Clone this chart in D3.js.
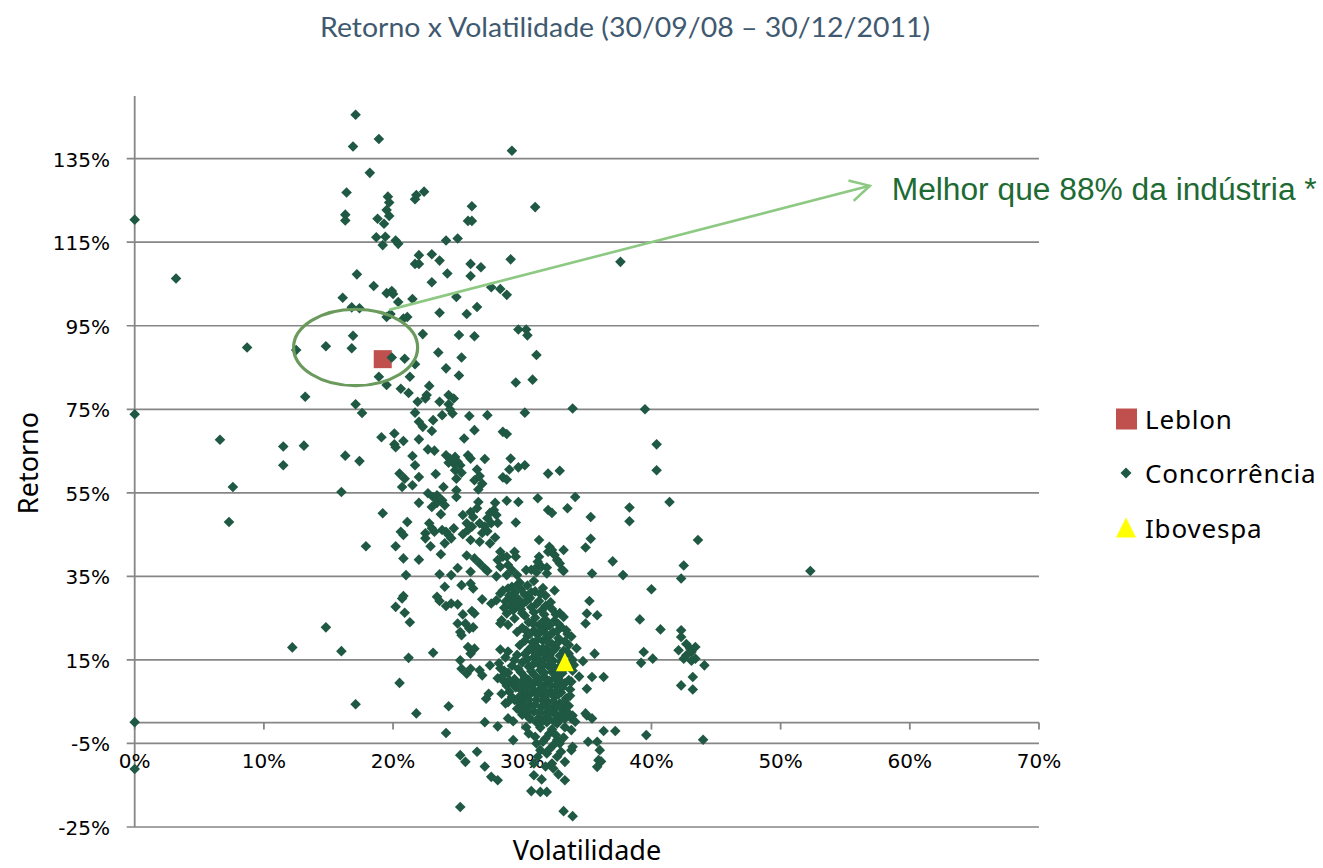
<!DOCTYPE html>
<html><head><meta charset="utf-8">
<script src="https://cdn.jsdelivr.net/npm/d3@7"></script>
<style>body{margin:0;background:#fff}</style>
</head><body>
<svg id="chart" width="1323" height="868"></svg>
<script>
// ---------- DATA ----------
const chartTitle = "Retorno x Volatilidade (30/09/08 – 30/12/2011)";
const xTicks = [0, 10, 20, 30, 40, 50, 60, 70];
const yTicks = [-25, -5, 15, 35, 55, 75, 95, 115, 135];
const seriesNames = ["Leblon", "Concorrência", "Ibovespa"];
// [volatilidade %, retorno %]
const leblon = [[19.2, 87.0]];
const ibovespa = [[33.3, 14.3]];
const concorrencia = [
[17.1,145.5],[18.9,139.7],[16.9,137.9],[18.2,131.6],[16.4,126.9],[19.6,125.9],[19.7,124.5],[21.8,126.3],[21.7,125.3],[16.3,121.6],
[16.3,120.2],[19.5,122.7],[19.7,121.3],[18.8,120.6],[19.3,119.4],[0,120.4],[18.7,116.2],[19.4,116.3],[19.2,114.3],[20.2,115.4],
[20.4,114.6],[22.0,111.9],[21.7,109.8],[3.2,106.3],[17.2,107.3],[18.5,104.5],[16.1,101.7],[19.5,102.8],[19.9,103.3],[20.0,102.6],
[20.4,100.7],[21.5,101.4],[16.8,99.4],[17.4,99.2],[19.5,97.1],[19.8,97.8],[20.8,96.7],[21.1,97.1],[16.9,92.6],[29.2,136.9],
[22.4,127.1],[26.1,123.6],[31.0,123.4],[25.8,120.1],[26.1,120.1],[24.1,115.4],[25.0,115.9],[23.0,112.1],[23.6,110.6],[22.0,109.8],
[26.0,109.8],[26.8,109.0],[29.1,110.9],[37.6,110.3],[24.2,107.5],[26.0,106.9],[23.0,105.4],[27.6,104.2],[28.3,103.8],[28.8,102.4],
[24.9,101.9],[23.6,98.1],[25.7,97.8],[26.5,99.5],[22.3,93.0],[25.1,92.8],[26.3,92.5],[29.7,94.1],[30.3,94.1],[30.4,92.7],
[8.7,89.8],[12.5,89.2],[14.8,90.1],[16.8,89.6],[19.9,87.4],[20.9,87.1],[21.7,85.8],[18.9,82.8],[19.5,80.8],[21.3,82.8],
[20.6,79.9],[21.2,78.9],[13.2,78.0],[21.9,76.8],[17.1,76.2],[17.6,74.1],[21.7,74.2],[0,73.8],[22.0,72.0],[19.1,68.3],
[20.1,69.2],[20.8,67.4],[20.1,66.6],[20.2,65.9],[6.6,67.7],[11.5,66.1],[13.1,66.3],[11.5,61.6],[16.3,63.9],[17.4,62.6],
[21.5,63.8],[21.7,61.6],[22.0,67.8],[20.5,59.6],[20.9,58.4],[20.7,56.4],[21.5,56.8],[22.0,58.8],[7.6,56.4],[16.0,55.2],
[22.0,52.6],[19.2,50.1],[7.3,48.0],[21.1,48.0],[20.6,45.7],[20.8,44.9],[17.9,42.2],[20.2,42.2],[20.8,39.3],[22.0,39.0],
[21.0,35.3],[23.5,88.6],[25.3,87.4],[31.1,88.0],[24.1,84.8],[25.1,83.1],[29.5,81.4],[30.8,82.1],[22.8,80.6],[22.5,77.6],
[22.6,78.4],[23.6,76.8],[24.3,78.4],[24.7,77.6],[24.3,76.2],[24.4,75.0],[24.6,74.0],[23.8,73.6],[23.1,72.4],[25.9,73.4],
[27.3,73.6],[30.2,74.2],[33.9,75.2],[39.5,75.0],[22.3,70.8],[23.0,69.8],[26.3,70.0],[28.5,69.6],[28.8,69.1],[25.5,68.0],
[40.4,66.6],[22.7,65.4],[23.2,65.1],[24.1,64.0],[24.4,63.2],[24.8,63.6],[25.0,62.4],[24.7,62.0],[25.2,61.6],[24.3,62.2],
[25.8,64.0],[26.0,63.2],[27.1,63.1],[29.1,63.2],[30.2,61.6],[29.7,61.1],[29.0,60.6],[32.0,59.6],[32.9,60.3],[40.4,60.4],
[23.3,59.5],[24.8,60.4],[25.3,59.8],[24.9,58.4],[26.5,60.6],[26.7,59.0],[26.3,58.0],[26.9,57.2],[28.5,58.7],[28.8,58.2],
[23.9,56.4],[24.9,55.6],[24.9,54.0],[26.6,55.8],[22.7,54.9],[23.1,54.0],[23.4,54.4],[31.2,53.7],[34.1,54.0],[41.4,52.8],
[38.3,51.5],[23.4,52.6],[23.8,53.2],[24.0,52.0],[23.0,51.6],[26.6,52.8],[26.5,51.3],[27.9,52.6],[27.8,50.9],[27.5,50.2],
[28.0,49.7],[27.3,48.9],[28.8,53.1],[29.7,52.8],[32.0,50.9],[32.3,50.2],[33.5,51.3],[35.3,49.2],[38.3,48.2],[23.7,49.9],
[25.4,49.7],[26.0,50.4],[26.2,49.2],[22.8,47.7],[23.0,46.5],[22.5,45.3],[23.2,45.7],[23.8,46.1],[24.1,45.7],[24.7,46.5],
[24.3,44.9],[25.7,47.7],[26.1,46.9],[25.8,46.1],[25.4,45.1],[26.7,47.7],[27.1,46.9],[27.3,45.8],[26.9,45.4],[27.6,47.7],
[28.1,47.8],[29.5,47.9],[22.5,44.1],[22.9,42.2],[24.0,42.9],[24.5,44.1],[26.0,43.7],[26.7,43.3],[27.5,42.9],[27.9,44.3],
[31.3,43.7],[35.3,44.0],[34.9,41.9],[32.1,42.1],[32.0,40.9],[33.2,41.3],[43.6,43.7],[23.7,40.3],[25.7,40.0],[26.3,39.3],
[26.7,38.1],[27.1,36.9],[27.3,36.3],[28.3,40.9],[28.5,39.7],[28.1,38.9],[28.8,39.7],[28.3,37.3],[28.9,37.7],[29.4,40.9],
[29.5,39.7],[29.2,36.5],[29.6,35.3],[25.0,37.0],[26.0,36.1],[23.6,35.5],[24.5,35.3],[30.3,36.5],[30.7,36.6],[31.1,37.1],
[31.5,37.3],[31.9,37.1],[31.3,39.7],[31.2,38.5],[32.5,40.1],[32.7,38.9],[32.9,38.1],[33.1,36.6],[32.3,41.3],[37.0,38.6],
[35.4,35.7],[37.8,35.3],[42.5,37.6],[42.3,34.5],[52.3,36.3],[20.8,30.3],[20.7,29.7],[20.2,27.7],[20.9,26.3],[21.3,24.0],
[14.8,22.8],[12.2,18.0],[16.0,17.1],[21.2,15.5],[20.5,9.5],[17.1,4.4],[21.8,2.2],[0,0.1],[0,-11.1],[42.3,22.1],
[42.3,20.5],[42.7,18.8],[43.0,17.7],[43.4,18.1],[43.1,16.9],[42.7,16.1],[42.5,15.3],[43.1,14.8],[43.4,15.3],[44.1,13.7],
[43.2,10.9],[42.3,8.9],[43.2,7.9],[44.0,-4.1],[28.0,35.0],[28.8,35.3],[31.1,36.0],[31.9,35.7],[33.2,36.3],[40.0,31.9],
[24.0,32.5],[25.3,32.9],[26.0,33.3],[26.2,32.1],[26.9,29.5],[23.4,30.1],[23.6,29.1],[24.1,27.9],[24.5,28.5],[25.0,28.3],
[25.4,25.9],[26.1,26.7],[26.3,26.1],[25.6,23.7],[25.0,23.7],[25.2,21.7],[25.3,20.9],[25.9,22.5],[26.2,22.8],[27.6,28.5],
[28.0,29.3],[28.3,30.9],[28.9,32.1],[29.2,32.5],[29.6,32.9],[28.4,24.5],[28.3,23.7],[28.8,26.1],[29.3,26.9],[35.2,29.1],
[35.0,26.1],[35.8,25.7],[34.9,23.7],[33.4,22.1],[39.1,24.7],[40.7,22.3],[42.1,17.3],[39.4,16.9],[39.2,14.3],[40.1,15.3],
[35.6,16.5],[34.7,14.7],[36.3,10.9],[35.4,10.9],[35.0,8.1],[23.1,16.7],[25.2,14.9],[25.3,12.9],[25.7,11.7],[26.0,12.9],
[26.7,12.5],[26.9,11.3],[27.5,13.7],[25.8,18.1],[26.3,17.7],[26.0,16.5],[27.4,6.9],[27.2,5.7],[24.3,3.9],[27.1,0.1],
[28.1,-0.9],[24.1,-2.5],[28.9,1.0],[28.7,4.6],[35.0,1.7],[35.4,1.0],[36.3,-2.0],[37.2,-2.0],[39.6,-3.0],[35.1,-4.6],
[35.8,-4.6],[36.0,-6.6],[35.9,-9.0],[36.1,-9.3],[35.8,-10.6],[25.2,-7.8],[25.6,-9.4],[26.5,-7.0],[27.1,-10.5],[27.6,-13.0],
[28.1,-13.8],[29.3,-4.2],[30.3,-1.1],[30.5,-2.6],[31.1,-5.0],[31.4,-6.6],[30.9,-9.8],[30.9,-12.6],[31.9,-7.4],[32.3,-9.8],
[32.4,-11.0],[32.7,-8.2],[33.3,-9.4],[33.8,-6.6],[33.9,-5.8],[33.3,-13.8],[30.7,-16.4],[31.4,-16.6],[31.9,-16.6],[25.2,-20.2],
[33.2,-21.2],[33.9,-22.4],[29.2,6.1],[28.9,4.9],[29.8,4.6],[30.1,5.7],[30.2,2.9],[30.5,1.3],[31.1,0.1],[31.9,0.1],
[32.7,-0.2],[33.3,-1.1],[33.8,-1.8],[32.1,-2.6],[32.7,-4.2],[31.8,-3.8],[32.4,-5.4],[32.9,-5.0],[33.8,1.0],[33.9,1.7],
[34.9,2.2]
];
// dense core near Ibovespa
const concorrenciaNucleo = [
[29.8,33.5],[30.4,32.8],[30.9,33.9],[31.6,32.2],[29.4,31.0],[30.2,30.6],[31.0,31.4],[31.8,30.4],[32.5,31.6],[30.6,29.8],
[29.7,29.5],[31.3,29.1],[32.2,28.8],[28.7,29.0],[30.0,28.3],[29.1,27.8],[29.9,27.1],[30.7,27.6],[31.5,26.8],[32.3,27.2],
[32.9,26.2],[30.2,25.6],[31.0,25.1],[31.8,24.6],[29.4,24.9],[30.5,24.0],[32.5,24.4],[33.2,25.3],[28.9,23.4],[31.3,23.3],
[30.0,22.7],[30.9,22.0],[31.7,22.5],[32.4,21.6],[33.0,22.9],[31.2,21.0],[32.0,20.4],[32.8,20.2],[30.4,20.8],[29.6,21.7],
[31.6,19.6],[33.3,19.4],[30.8,19.2],[32.3,18.8],[33.8,20.6],[31.1,18.2],[31.9,17.6],[32.6,17.9],[33.2,17.2],[30.5,17.4],
[29.8,18.5],[31.4,16.8],[32.1,16.2],[32.9,16.0],[33.6,16.5],[30.9,15.7],[31.7,15.2],[32.4,14.8],[29.6,16.2],[28.7,15.6],
[34.2,17.8],[31.2,14.2],[32.0,13.6],[32.8,13.2],[33.5,13.9],[30.5,13.4],[29.7,12.8],[31.4,12.6],[32.3,12.1],[33.1,11.8],
[33.9,12.4],[30.9,11.5],[31.7,10.9],[32.5,10.6],[28.9,11.9],[29.4,10.4],[30.2,10.9],[34.4,11.0],[33.6,10.2],[28.3,13.0],
[31.0,9.6],[31.8,9.1],[32.6,8.8],[33.3,9.4],[30.3,8.9],[29.5,8.4],[31.4,8.0],[32.2,7.5],[33.0,7.2],[33.7,7.9],
[30.7,7.1],[31.6,6.5],[32.5,6.1],[29.0,7.4],[28.6,9.8],[30.1,6.6],[33.4,5.8],[31.1,5.5],[32.0,4.9],[32.9,4.6],
[30.6,4.1],[31.5,3.8],[32.4,3.4],[33.2,3.0],[29.6,3.3],[30.9,2.6],[31.8,2.2],[32.6,1.8],[33.5,2.5],[31.3,1.2],
[32.1,0.8],[32.9,0.6],[30.0,1.9],[29.3,0.3],[31.4,-1.2],[32.3,-1.6],[31.0,-3.4],[32.6,-3.0],[31.6,-4.6],[33.2,-3.6],
[32.1,-6.4],[31.2,-8.2],[33.0,-7.0],[31.8,-10.5],[32.8,-12.4],[31.5,-13.6],[28.2,14.2],[28.6,12.4],[29.2,13.6],[28.1,10.6],
[28.8,8.8],[29.3,9.2],[28.4,6.9],[29.7,6.0],
[30.8,23.8],[31.5,23.9],[32.1,23.2],[32.8,23.6],[30.3,22.0],[31.4,21.8],[32.7,21.9],[33.5,21.2],[31.9,21.1],[30.6,21.2],
[30.2,19.6],[31.2,19.9],[32.0,19.2],[32.7,19.0],[33.6,18.6],[30.7,18.0],[31.6,17.8],[32.4,17.2],[33.4,16.9],[30.2,16.4],
[31.0,16.6],[31.8,16.5],[30.4,15.2],[31.3,15.0],[32.1,15.3],[33.0,14.6],[33.9,15.0],[30.0,14.4],[30.8,13.8],[31.6,13.7],
[32.4,13.5],[33.2,12.7],[29.9,12.0],[30.7,12.3],[31.7,11.9],[32.7,11.8],[34.0,13.8],[30.5,10.2],[31.3,10.4],[32.1,10.0],
[32.9,10.1],[33.8,9.8],[29.9,9.6],[30.6,9.0],[31.4,9.2],[32.2,8.9],[33.1,8.4],[29.9,7.8],[30.8,8.1],[31.7,7.8],
[32.6,7.3],[30.4,6.9],[31.1,6.8],[31.9,6.6],[32.8,6.8],[33.7,6.4],[29.4,5.4],[30.5,5.4],[31.6,5.2],[32.4,5.0],
[33.2,4.8],[30.1,4.2],[31.0,4.3],[31.9,3.9],[32.7,3.8],[33.6,4.0],[29.9,2.8],[30.4,2.4],[31.3,2.5],[32.2,2.6],
[33.0,2.1],[30.6,0.9],[31.6,0.5],[32.5,0.2],[33.3,0.9],[34.1,0.2],[29.0,30.4],[29.9,31.9],[30.7,31.2],[31.4,30.8],
[28.6,27.5],[29.5,28.2],[30.3,29.0],[31.1,28.4],[31.8,27.9],[28.5,31.6],[29.2,29.5],[30.9,26.4],[31.7,25.9],[32.6,25.9],
[30.0,26.2],[28.3,17.5],[28.9,17.0],[29.4,15.0],[28.5,11.2],[29.0,10.2]
];
// annotation (in data units)
const destaque = {vol: 17.1, ret: 89.8, dVol: 4.8, dRet: 9.15};
const seta = [[19.7, 98.8], [56.9, 128.5]];
const notaTexto = "Melhor que 88% da indústria *";
const notaPos = [58.6, 127.7];

// ---------- LAYOUT ----------
const svg = d3.select("#chart");
const x = d3.scaleLinear().domain([0, 70]).range([134.7, 1039]);
const y = d3.scaleLinear().domain([-25, 150]).range([827, 96]);
const gridColor = "#868686";
const pctFmt = d => d + "%";

// title
svg.append("text").attr("x", 625).attr("y", 37).attr("text-anchor", "middle")
  .attr("font-family", "Lato, 'Open Sans', sans-serif").attr("font-size", 27)
  .attr("fill", "#3f5a70").attr("textLength", 610).attr("lengthAdjust", "spacingAndGlyphs")
  .text(chartTitle);

// gridlines
svg.append("g").selectAll("line").data(yTicks).join("line")
  .attr("x1", x(0) - 8).attr("x2", x(70))
  .attr("y1", d => y(d)).attr("y2", d => y(d))
  .attr("stroke", gridColor).attr("stroke-width", 1.7);

// y axis line
svg.append("line").attr("x1", x(0)).attr("x2", x(0)).attr("y1", y(150)).attr("y2", y(-25))
  .attr("stroke", gridColor).attr("stroke-width", 1.8);

// x axis line at 0 with ticks
svg.append("line").attr("x1", x(0)).attr("x2", x(70)).attr("y1", y(0)).attr("y2", y(0))
  .attr("stroke", gridColor).attr("stroke-width", 1.8);
svg.append("g").selectAll("line").data(xTicks).join("line")
  .attr("x1", d => x(d)).attr("x2", d => x(d)).attr("y1", y(0)).attr("y2", y(0) + 7)
  .attr("stroke", gridColor).attr("stroke-width", 1.8);

// tick labels
svg.append("g").selectAll("text").data(yTicks).join("text")
  .attr("x", 110).attr("y", d => y(d) + 8).attr("text-anchor", "end")
  .attr("font-family", "'DejaVu Sans', sans-serif").attr("font-size", 20).attr("fill", "#000")
  .text(pctFmt);
svg.append("g").selectAll("text").data(xTicks).join("text")
  .attr("x", d => x(d)).attr("y", 768).attr("text-anchor", "middle")
  .attr("font-family", "'DejaVu Sans', sans-serif").attr("font-size", 20).attr("fill", "#000")
  .text(pctFmt);

// axis titles
svg.append("text").attr("x", 587).attr("y", 860).attr("text-anchor", "middle")
  .attr("font-family", "'Noto Sans', sans-serif").attr("font-size", 27).attr("fill", "#000")
  .text("Volatilidade");
svg.append("text").attr("transform", "translate(38,463) rotate(-90)").attr("text-anchor", "middle")
  .attr("font-family", "'Noto Sans', sans-serif").attr("font-size", 27).attr("fill", "#000")
  .text("Retorno");

// series
const diamond = "M0,-5.3L5.3,0L0,5.3L-5.3,0Z";
const pts = svg.append("g");
pts.selectAll("rect.leb").data(leblon).join("rect").attr("class", "leb")
  .attr("x", d => x(d[0]) - 9).attr("y", d => y(d[1]) - 9).attr("width", 18).attr("height", 18)
  .attr("fill", "#c0504d");
pts.selectAll("path.conc").data(concorrencia.concat(concorrenciaNucleo)).join("path").attr("class", "conc")
  .attr("d", diamond).attr("transform", d => `translate(${x(d[0])},${y(d[1])})`)
  .attr("fill", "#1f5843");
const tri = "M0,-10L9,8.5L-9,8.5Z";
pts.selectAll("path.ibov").data(ibovespa).join("path").attr("class", "ibov")
  .attr("d", tri).attr("transform", d => `translate(${x(d[0])},${y(d[1])})`)
  .attr("fill", "#ffff00");

// highlight ellipse
svg.append("ellipse")
  .attr("cx", x(destaque.vol)).attr("cy", y(destaque.ret))
  .attr("rx", x(destaque.vol + destaque.dVol) - x(destaque.vol))
  .attr("ry", y(destaque.ret - destaque.dRet) - y(destaque.ret))
  .attr("fill", "none").attr("stroke", "#6a9a5c").attr("stroke-width", 3.2);

// arrow
const p0 = [x(seta[0][0]), y(seta[0][1])], p1 = [x(seta[1][0]), y(seta[1][1])];
const ang = Math.atan2(p1[1] - p0[1], p1[0] - p0[0]);
const aLen = 22, aW = 0.5;
const arrowColor = "#8dc983";
svg.append("line").attr("x1", p0[0]).attr("y1", p0[1]).attr("x2", p1[0]).attr("y2", p1[1])
  .attr("stroke", arrowColor).attr("stroke-width", 2.6);
svg.append("path")
  .attr("d", `M${p1[0] - aLen * Math.cos(ang - aW)},${p1[1] - aLen * Math.sin(ang - aW)}L${p1[0]},${p1[1]}L${p1[0] - aLen * Math.cos(ang + aW)},${p1[1] - aLen * Math.sin(ang + aW)}`)
  .attr("fill", "none").attr("stroke", arrowColor).attr("stroke-width", 2.6);

svg.append("text").attr("x", x(notaPos[0])).attr("y", y(notaPos[1]) + 11)
  .attr("font-family", "'Liberation Sans', Arial, sans-serif").attr("font-size", 31)
  .attr("fill", "#1d6a33").attr("textLength", 425).attr("lengthAdjust", "spacingAndGlyphs")
  .text(notaTexto);

// legend
const lg = svg.append("g").attr("font-family", "'Noto Sans', sans-serif").attr("font-size", 26).attr("fill", "#000");
const legY = [419, 473, 528];
lg.append("rect").attr("x", 1116).attr("y", legY[0] - 10.5).attr("width", 21).attr("height", 21).attr("fill", "#c0504d");
lg.append("path").attr("d", "M0,-5.5L5.5,0L0,5.5L-5.5,0Z").attr("transform", `translate(1126,${legY[1]})`).attr("fill", "#1f5843");
lg.append("path").attr("d", "M0,-10.5L10,9.5L-10,9.5Z").attr("transform", `translate(1126,${legY[2]})`).attr("fill", "#ffff00");
lg.selectAll("text").data(seriesNames).join("text")
  .attr("x", 1145).attr("y", (d, i) => legY[i] + 10).attr("letter-spacing", 0.8)
  .text(d => d);
</script>
</body></html>
